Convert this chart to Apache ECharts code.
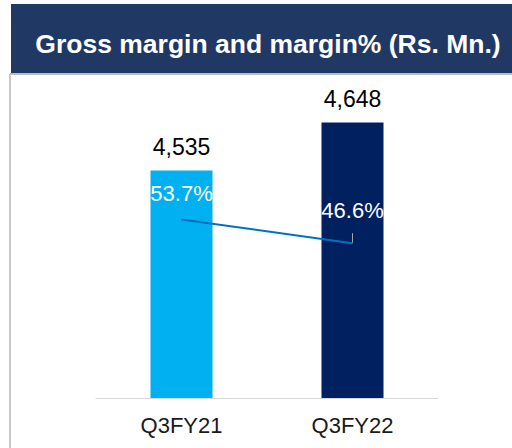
<!DOCTYPE html>
<html>
<head>
<meta charset="utf-8">
<script src="https://cdn.jsdelivr.net/npm/echarts@6/dist/echarts.min.js"></script>
<style>
  html, body { margin: 0; padding: 0; background: #fff; }
  #chart { width: 512px; height: 448px; }
</style>
</head>
<body>
<div id="chart"></div>
<script>
  var categories = ['Q3FY21', 'Q3FY22'];
  var grossMargin = [4535, 4648];
  var marginPct = [53.7, 46.6];
  var barColors = ['#00B0F0', '#002060'];

  var chart = echarts.init(document.getElementById('chart'), null, { renderer: 'svg' });

  var option = {
    animation: false,
    textStyle: { fontFamily: 'Liberation Sans, Arial, sans-serif' },
    graphic: [
      { type: 'rect', shape: { x: 11, y: 4, width: 501, height: 69 },
        style: { fill: '#203864' } },
      { type: 'rect', shape: { x: 10, y: 73, width: 502, height: 2 },
        style: { fill: '#b8bcc4' } },
      { type: 'rect', shape: { x: 9, y: 74, width: 2, height: 374 },
        style: { fill: '#c8c8c8' } },
      { type: 'text', x: 268, y: 44,
        style: { text: 'Gross margin and margin% (Rs. Mn.)', fill: '#fff',
          align: 'center', verticalAlign: 'middle',
          font: 'bold 26.5px Liberation Sans, Arial, sans-serif' } }
    ],
    grid: { left: 96, right: 74, top: 79, bottom: 50 },
    xAxis: {
      type: 'category',
      data: categories,
      axisLine: { lineStyle: { color: '#d9d9d9', width: 1 } },
      axisTick: { show: false },
      axisLabel: { color: '#1a1a1a', fontSize: 22, margin: 16 }
    },
    yAxis: [
      { type: 'value', min: 4000, max: 4750, show: false, splitLine: { show: false } },
      { type: 'value', min: 0, max: 96, show: false, splitLine: { show: false } }
    ],
    series: [
      {
        type: 'bar',
        barWidth: 62,
        data: grossMargin.map(function (v, i) {
          return { value: v, itemStyle: { color: barColors[i] } };
        }),
        label: {
          show: true, position: 'top', distance: 12,
          color: '#000', fontSize: 23,
          formatter: function (p) { return p.value.toLocaleString('en-US'); }
        }
      },
      {
        type: 'line',
        yAxisIndex: 1,
        z: 5,
        data: marginPct.map(function (v, i) {
          return { value: v, label: { distance: i === 0 ? 15 : 21 } };
        }),
        symbol: 'circle',
        symbolSize: 1,
        showSymbol: true,
        itemStyle: { color: '#0070C0' },
        lineStyle: { color: '#0070C0', width: 2 },
        label: {
          show: true, position: 'top', opacity: 1,
          color: '#fff', fontSize: 22,
          formatter: function (p) { return p.value.toFixed(1) + '%'; }
        },
        labelLayout: { hideOverlap: false },
        markLine: {
          silent: true,
          symbol: 'none',
          label: { show: false },
          lineStyle: { color: '#a6a6a6', width: 1, type: 'solid' },
          data: [[{ coord: [1, marginPct[1]] }, { coord: [1, marginPct[1] + 3] }]]
        }
      }
    ]
  };

  chart.setOption(option);
  window.addEventListener('resize', chart.resize);
</script>
</body>
</html>
